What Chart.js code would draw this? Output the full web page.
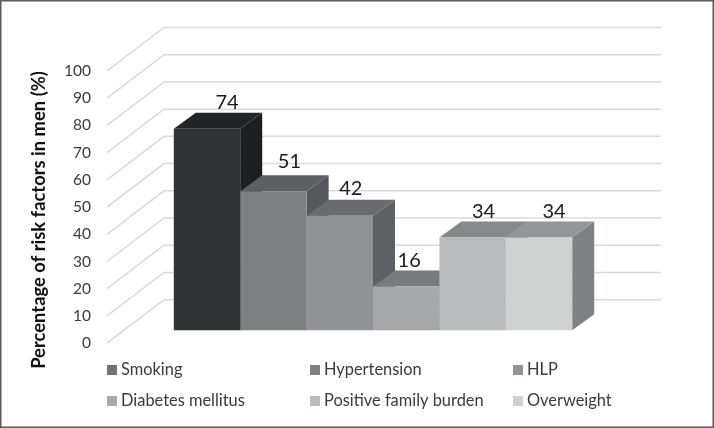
<!DOCTYPE html>
<html>
<head>
<meta charset="utf-8">
<style>
  html, body { margin: 0; padding: 0; background: #fff; }
  canvas { display: block; }
</style>
<script src="https://cdn.jsdelivr.net/npm/chart.js@4/dist/chart.umd.min.js"></script>
</head>
<body>
<canvas id="myChart" width="714" height="428"></canvas>
<script>
const riskFactors = ['Smoking', 'Hypertension', 'HLP', 'Diabetes mellitus', 'Positive family burden', 'Overweight'];
const percentages = [74, 51, 42, 16, 34, 34];
const frontColors = ['#323335', '#7e8082', '#8f9395', '#a6a9a9', '#b9bcbc', '#cfd1d0'];
const topColors = ['#232426', '#5d6062', '#686c6e', '#787b7c', '#85898a', '#929696'];
const sideColors = ['#1e1f21', '#55585a', '#5e6163', '#6c6f70', '#777a7b', '#7d8183'];
const legendColors = ['#707274', '#7e8082', '#8f9395', '#a6a9a9', '#b9bcbc', '#cfd1d0'];

// fake 3d: bars sit partway into the floor, walls go further back
const barShift = { x: 17, y: -13 };
const barDepth = { x: 22, y: -16 };
const wallShift = { x: 57, y: -43.5 };
// labels in the original were moved by hand
const labelNudge = [[20, 4], [16, 7], [11, 5], [3, 4], [11, 4], [15, 4]];
const legendCols = [107, 310, 513];
const legendRows = [370, 401];

const fakeDepth = {
    id: 'fakeDepth',
    beforeDatasetsDraw(chart) {
        const ctx = chart.ctx;
        const y = chart.scales.y;
        const left = chart.chartArea.left;

        // walls
        ctx.save();
        ctx.strokeStyle = '#d9d9d9';
        ctx.lineWidth = 1.5;
        y.ticks.forEach(t => {
            const py = y.getPixelForValue(t.value);
            ctx.beginPath();
            ctx.moveTo(left, py);
            ctx.lineTo(left + wallShift.x, py + wallShift.y);
            ctx.lineTo(661, py + wallShift.y);
            ctx.stroke();
        });
        ctx.restore();

        // side and top faces, left to right, fronts go over them
        ctx.save();
        ctx.translate(barShift.x, barShift.y);
        percentages.forEach((v, i) => {
            const bar = chart.getDatasetMeta(i).data[0];
            const l = bar.x - bar.width / 2;
            const r = bar.x + bar.width / 2;
            ctx.fillStyle = sideColors[i];
            ctx.beginPath();
            ctx.moveTo(r, bar.y);
            ctx.lineTo(r + barDepth.x, bar.y + barDepth.y);
            ctx.lineTo(r + barDepth.x, bar.base + barDepth.y);
            ctx.lineTo(r, bar.base);
            ctx.closePath();
            ctx.fill();
            ctx.fillStyle = topColors[i];
            ctx.beginPath();
            ctx.moveTo(l, bar.y);
            ctx.lineTo(l + barDepth.x, bar.y + barDepth.y);
            ctx.lineTo(r + barDepth.x, bar.y + barDepth.y);
            ctx.lineTo(r, bar.y);
            ctx.closePath();
            ctx.fill();
        });
        // stays translated so the library draws the fronts in the same plane
    },
    afterDatasetsDraw(chart) {
        const ctx = chart.ctx;
        ctx.restore();

        // value labels
        ctx.save();
        ctx.fillStyle = '#1a1a1a';
        ctx.font = '20px Lato';
        ctx.textAlign = 'center';
        ctx.textBaseline = 'alphabetic';
        percentages.forEach((v, i) => {
            const bar = chart.getDatasetMeta(i).data[0];
            ctx.fillText(String(v), bar.x + barShift.x + labelNudge[i][0],
                bar.y + barShift.y + barDepth.y - labelNudge[i][1]);
        });
        ctx.restore();
    },
    afterDraw(chart) {
        const ctx = chart.ctx;

        // legend is a 3 column grid, the built in one can't do that
        ctx.save();
        ctx.font = '16.4px Lato';
        ctx.textBaseline = 'middle';
        riskFactors.forEach((name, i) => {
            const x = legendCols[i % 3];
            const y = legendRows[Math.floor(i / 3)];
            ctx.fillStyle = legendColors[i];
            ctx.fillRect(x, y - 5, 10, 10);
            ctx.fillStyle = '#3a3a3a';
            ctx.fillText(name, x + 14, y);
        });

        // frame
        ctx.strokeStyle = '#5a5a5a';
        ctx.lineWidth = 1.5;
        ctx.strokeRect(0.75, 0.75, chart.width - 1.5, chart.height - 1.5);
        ctx.restore();
    }
};

new Chart(document.getElementById('myChart'), {
    type: 'bar',
    data: {
        labels: ['Men'],
        datasets: riskFactors.map((name, i) => ({
            label: name,
            data: [percentages[i]],
            backgroundColor: frontColors[i],
            borderWidth: 0,
            clip: false
        }))
    },
    options: {
        responsive: false,
        animation: false,
        categoryPercentage: 0.8,
        barPercentage: 1,
        layout: {
            autoPadding: false,
            padding: { left: 28, right: 109, top: 71, bottom: 59 }
        },
        plugins: {
            legend: { display: false },
            tooltip: { enabled: false }
        },
        scales: {
            x: { display: false },
            y: {
                min: -9.5,
                max: 100,
                afterBuildTicks: s => { s.ticks = s.ticks.filter(t => t.value >= 0); },
                afterFit: s => { s.width = 79; },
                grid: { display: false, drawTicks: false },
                border: { display: false },
                ticks: {
                    stepSize: 10,
                    padding: 16,
                    color: '#3a3a3a',
                    font: { family: 'Lato', size: 15.5 }
                },
                title: {
                    display: true,
                    text: 'Percentage of risk factors in men (%)',
                    color: '#111',
                    font: { family: 'Lato', size: 18.4, weight: 'bold' },
                    padding: { top: 0, bottom: 0 }
                }
            }
        }
    },
    plugins: [fakeDepth]
});
</script>
</body>
</html>
